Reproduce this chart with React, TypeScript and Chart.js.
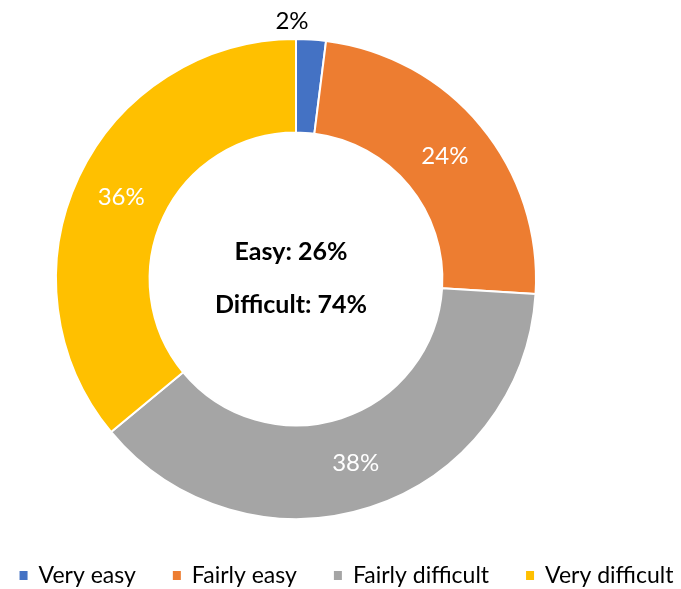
import { useEffect, useRef } from "react";
import { Chart, registerables } from "chart.js";

Chart.register(...registerables);

const categories = ["Very easy", "Fairly easy", "Fairly difficult", "Very difficult"];
const shares = [2, 24, 38, 36];
const sliceColors = ["#4472C4", "#ED7D31", "#A5A5A5", "#FFC000"];
const easyIndexes = [0, 1];
const difficultIndexes = [2, 3];

const FONT = "Lato, 'Open Sans', sans-serif";

const sum = (idx: number[]) => idx.reduce((a, i) => a + shares[i], 0);

const labelsPlugin = {
  id: "sliceLabels",
  afterDatasetsDraw(chart: any) {
    const ctx = chart.ctx as CanvasRenderingContext2D;
    const meta = chart.getDatasetMeta(0);
    const data = chart.data.datasets[0].data as number[];
    ctx.save();
    ctx.textAlign = "center";
    ctx.textBaseline = "alphabetic";
    ctx.font = `24px ${FONT}`;
    const capH = ctx.measureText("0").actualBoundingBoxAscent;
    meta.data.forEach((arc: any, i: number) => {
      const v = data[i];
      const p = arc.getProps(["x", "y", "outerRadius"], true);
      let x: number, y: number, color: string;
      if (v < 5) {
        x = p.x - 4;
        y = p.y - p.outerRadius - 19;
        color = "#000";
      } else {
        const t = arc.tooltipPosition(true);
        x = t.x;
        y = t.y;
        color = "#fff";
      }
      ctx.fillStyle = color;
      ctx.fillText(`${v}%`, x, y + capH / 2);
    });
    // centre text
    const first = meta.data[0].getProps(["x", "y"], true);
    ctx.font = `bold 25px ${FONT}`;
    ctx.fillStyle = "#000";
    ctx.fillText(`Easy: ${sum(easyIndexes)}%`, first.x - 5, first.y - 19);
    ctx.fillText(`Difficult: ${sum(difficultIndexes)}%`, first.x - 5, first.y + 34);
    ctx.restore();
  },
  afterDraw(chart: any) {
    const ctx = chart.ctx as CanvasRenderingContext2D;
    ctx.save();
    ctx.font = `23px ${FONT}`;
    ctx.textAlign = "left";
    ctx.textBaseline = "alphabetic";
    const box = 8;
    const gapBoxText = 11;
    const gapItems = 37;
    const widths = categories.map((c) => ctx.measureText(c).width);
    const total =
      widths.reduce((a, w) => a + box + gapBoxText + w, 0) + gapItems * (categories.length - 1);
    let x = chart.width / 2 + 6 - total / 2;
    const baseline = chart.height - 6;
    categories.forEach((c, i) => {
      ctx.fillStyle = sliceColors[i];
      ctx.fillRect(x, baseline - 12, box, box + 1);
      ctx.fillStyle = "#000";
      ctx.fillText(c, x + box + gapBoxText, baseline);
      x += box + gapBoxText + widths[i] + gapItems;
    });
    ctx.restore();
  },
};

export default function App() {
  const canvasRef = useRef<HTMLCanvasElement | null>(null);

  useEffect(() => {
    if (!canvasRef.current) return;
    const chart = new Chart(canvasRef.current, {
      type: "doughnut",
      data: {
        labels: categories,
        datasets: [
          {
            data: shares,
            backgroundColor: sliceColors,
            borderColor: "#ffffff",
            borderWidth: 2,
            hoverOffset: 0,
          },
        ],
      },
      options: {
        animation: false,
        responsive: true,
        maintainAspectRatio: false,
        cutout: "61%",
        events: [],
        layout: { padding: { top: 38, bottom: 69, left: 0, right: 89 } },
        plugins: {
          legend: { display: false },
          tooltip: { enabled: false },
        },
      },
      plugins: [labelsPlugin],
    });
    return () => chart.destroy();
  }, []);

  return (
    <div style={{ position: "fixed", left: 0, top: 0, width: 681, height: 589, background: "#fff" }}>
      <canvas ref={canvasRef} />
    </div>
  );
}
